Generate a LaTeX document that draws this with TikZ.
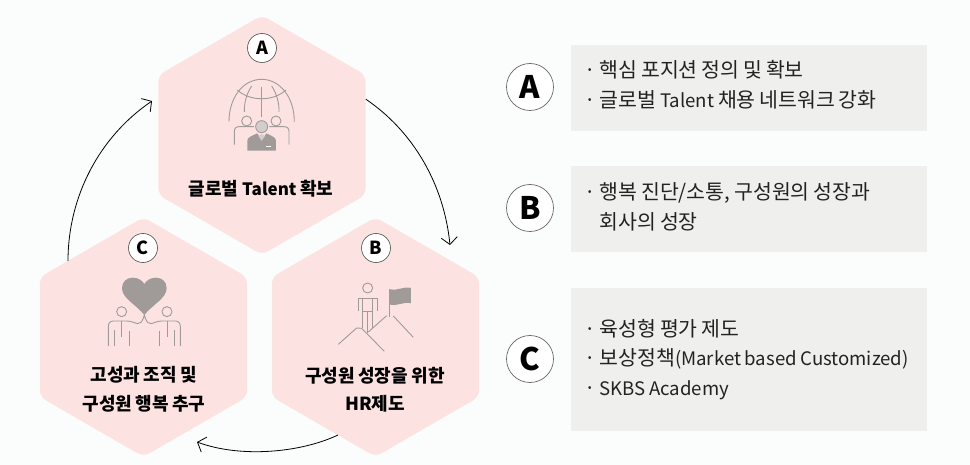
\documentclass[tikz,border=0pt]{standalone}
\usepackage{fontspec}
\setmainfont{Noto Sans CJK KR}
\newfontfamily\panelfont[WordSpace=1.0]{Noto Sans CJK KR}
\newfontfamily\panellatin[WordSpace=1.0]{Noto Sans CJK KR}
\newfontfamily\hexfont[WordSpace=0.85]{Noto Sans CJK KR}
\newcommand{\lat}[1]{{\panellatin\fontsize{18.6}{29.5}\selectfont #1}}
\usetikzlibrary{arrows.meta,shapes.geometric}
\definecolor{pagebg}{HTML}{FBFDFD}
\definecolor{hexpink}{HTML}{FCE3E2}
\definecolor{panelgray}{HTML}{EFEFEE}
\definecolor{icongray}{HTML}{A09A99}
\definecolor{iconlight}{HTML}{D2CECD}
\definecolor{inktext}{HTML}{222222}
\tikzset{
  hexa/.style={regular polygon,regular polygon sides=6,shape border rotate=30,minimum size=239.5pt,inner sep=0pt,fill=hexpink,rounded corners=7pt},
  hexlabel/.style={font=\hexfont\fontsize{18}{28.5}\selectfont\bfseries,align=center,text=black},
  badge/.style={circle,draw=black!70,line width=.6pt,fill=white,minimum size=29pt,inner sep=0pt,font=\fontsize{18}{18}\selectfont\bfseries,text=black},
  bigbadge/.style={circle,draw=black!60,line width=.7pt,fill=white,minimum size=47pt,inner sep=0pt,font=\fontsize{31}{31}\selectfont\bfseries,text=black},
  panel/.style={fill=panelgray,draw=none,minimum width=356pt,inner sep=0pt,anchor=north west},
  paneltext/.style={font=\panelfont\fontsize{20.5}{29.5}\selectfont,align=left,anchor=west,inner sep=0pt,text=inktext},
  flow/.style={draw=black,line width=.8pt,-{Straight Barb[length=7pt,width=16pt,line width=.8pt]}},
  ic/.style={draw=icongray,line width=.9pt},
  icf/.style={fill=icongray,draw=none}
}
\begin{document}
\begin{tikzpicture}[x=1pt,y=-1pt]
\useasboundingbox (0,0) rectangle (970,465);
\fill[pagebg] (0,0) rectangle (970,465);
\node[hexa] (A) at (262,135) {};
\node[hexa] (B) at (375.5,337) {};
\node[hexa] (C) at (143.5,337) {};
\node[badge] (ba) at (262,48) {A};
\node[badge] (bb) at (376,248) {B};
\node[badge] (bc) at (143,248) {C};
\node[hexlabel] (la) at (261,189) {글로벌 {\fontsize{17}{28.5}\selectfont Talent} 확보};
\node[hexlabel] (lb) at (375,389.5) {구성원 성장을 위한\\HR제도};
\node[hexlabel] (lc) at (144,389.5) {고성과 조직 및\\구성원 행복 추구};
\coordinate (endB) at (450,245);
\coordinate (endC) at (197,442);
\coordinate (endA) at (152,101);
\draw[flow] (A.19) .. controls (414,132) and (444,185) .. (endB);
\draw[flow] (338,435) .. controls (300,453) and (240,458) .. (endC);
\draw[flow] (68,261) .. controls (68,197) and (99,137) .. (endA);
% icon A
\begin{scope}[shift={(150,10)},x=.3333pt,y=-.3333pt]
\draw[ic] (237,335) .. controls (237,262) and (280,208) .. (335,208) .. controls (390,208) and (433,262) .. (433,335);
\draw[ic] (262,240) .. controls (300,275) and (370,275) .. (408,240);
\draw[ic] (335,232) -- (335,320);
\draw[ic] (305,228) .. controls (290,250) and (282,280) .. (283,306);
\draw[ic] (365,228) .. controls (380,250) and (388,280) .. (387,306);
\draw[ic] (290,333) circle[radius=15];
\draw[ic] (378,333) circle[radius=15];
\draw[ic] (253,404) -- (253,365) .. controls (253,355) and (258,350) .. (268,350) -- (312,350);
\draw[ic] (417,404) -- (417,365) .. controls (417,355) and (412,350) .. (402,350) -- (358,350);
\fill[icongray] (292,422) -- (292,392) .. controls (292,382) and (305,378) .. (322,370) -- (335,392) -- (349,370) .. controls (365,378) and (378,382) .. (378,392) -- (378,422) -- cycle;
\fill[iconlight] (325,378) -- (335,392) -- (345,378) -- (335,372) -- cycle;
\fill[white] (349,407) rectangle (364,411);
\draw[icongray,fill=iconlight,line width=.9pt] (335,350) circle[radius=18];
\end{scope}
% icon C
\begin{scope}[shift={(30,220)},x=.3333pt,y=-.3333pt]
\fill[icongray] (343,285) .. controls (320,255) and (276,235) .. (276,205) .. controls (276,185) and (290,173) .. (308,173) .. controls (325,173) and (337,182) .. (343,192) .. controls (349,182) and (361,173) .. (378,173) .. controls (396,173) and (410,185) .. (410,205) .. controls (410,235) and (366,255) .. (343,285) -- cycle;
\draw[ic] (275,275) circle[radius=15];
\draw[ic] (411,275) circle[radius=15];
\draw[ic] (235,378) -- (235,320) .. controls (235,310) and (240,303) .. (250,303) -- (290,303) .. controls (320,303) and (330,330) .. (343,285) .. controls (356,330) and (366,303) .. (396,303) -- (436,303) .. controls (446,303) and (451,310) .. (451,320) -- (451,378);
\draw[ic] (252,330) -- (252,378);
\draw[ic] (275,303) -- (275,350);
\draw[ic] (297,332) -- (297,378);
\draw[ic] (389,332) -- (389,378);
\draw[ic] (411,303) -- (411,350);
\draw[ic] (434,330) -- (434,378);
\end{scope}
% icon B
\begin{scope}[shift={(265,220)},x=.3333pt,y=-.3333pt]
\draw[ic] (308,204) circle[radius=15];
\draw[ic] (279,274) -- (279,234) -- (336,234) -- (336,274);
\draw[ic] (292,234) -- (292,325);
\draw[ic] (322,234) -- (322,325);
\draw[ic] (292,274) -- (322,274);
\draw[ic] (307,274) -- (307,338);
\draw[ic] (220,373) -- (275,324) -- (290,325) -- (358,394);
\draw[ic] (310,336) -- (365,287);
\draw[ic] (385,288) -- (445,352);
\draw[ic] (374,207) -- (374,292);
\fill[icongray] (374,208) .. controls (395,214) and (415,198) .. (438,204) -- (438,250) .. controls (415,244) and (395,260) .. (374,254) -- cycle;
\end{scope}
% right side
\node[bigbadge] (ra) at (530,87) {A};
\node[bigbadge] (rb) at (530,208) {B};
\node[bigbadge] (rc) at (530,359) {C};
\node[panel,minimum height=86pt] (pa) at (571,45) {};
\node[panel,minimum height=86pt] (pb) at (571,166) {};
\node[panel,minimum height=143pt] (pc) at (571,288) {};
\node[paneltext] (ta) at (584,85) {· 핵심 포지션 정의 및 확보\\· 글로벌 \lat{Talent} 채용 네트워크 강화};
\node[paneltext] (tb) at (584,207) {· 행복 진단/소통, 구성원의 성장과\\\phantom{· }회사의 성장};
\node[paneltext] (tc) at (584,359.5) {· 육성형 평가 제도\\· 보상정책\lat{(Market based Customized)}\\· \lat{SKBS Academy}};
\end{tikzpicture}
\end{document}
